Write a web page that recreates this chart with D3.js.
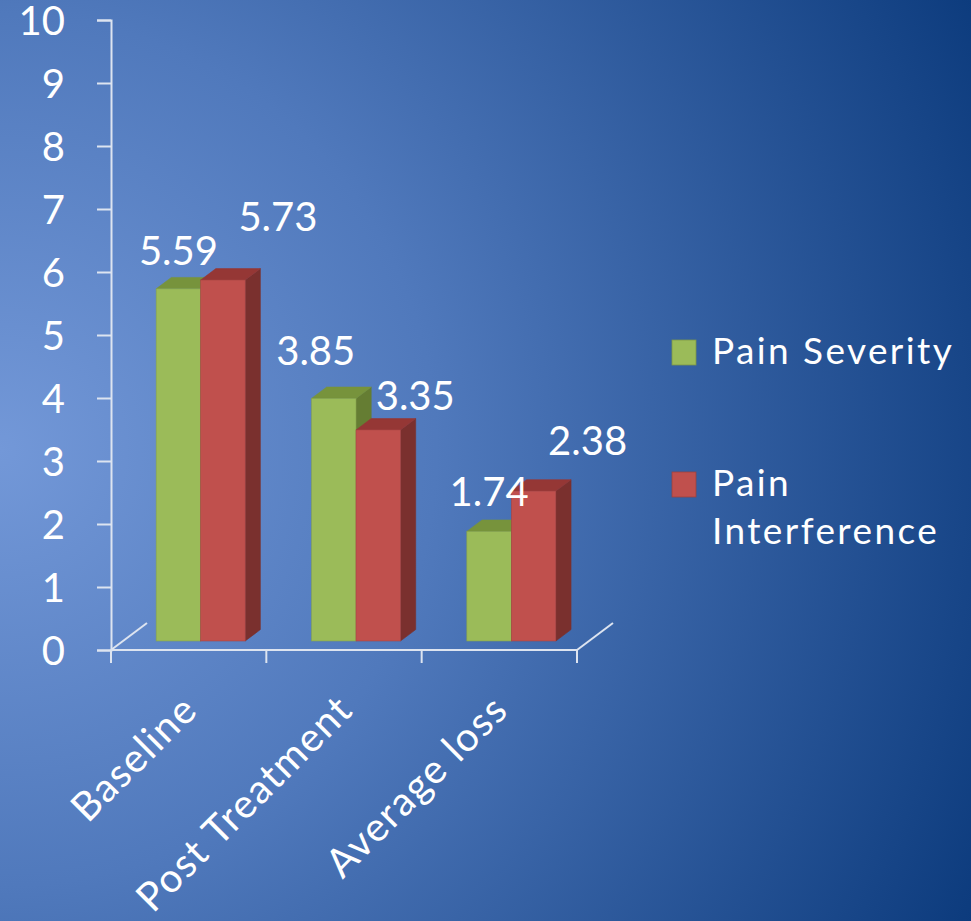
<!DOCTYPE html>
<html>
<head>
<meta charset="utf-8">
<script src="https://cdn.jsdelivr.net/npm/d3@7"></script>
<style>
  html, body { margin: 0; padding: 0; overflow: hidden; }
  svg { display: block; }
</style>
</head>
<body>
<div id="chart"></div>
<script>
var categories = ["Baseline", "Post Treatment", "Average loss"];
var seriesNames = ["Pain Severity", "Pain Interference"];
var severity = [5.59, 3.85, 1.74];
var interference = [5.73, 3.35, 2.38];
var yTicks = [0, 1, 2, 3, 4, 5, 6, 7, 8, 9, 10];

(function () {
  var width = 971, height = 921;
  var font = "Lato, 'Open Sans', sans-serif";

  var front = { green: "#9bbb59", red: "#c0504d" };
  var top3d = { green: "#77933c", red: "#953735" };
  var side3d = { green: "#657d33", red: "#7a302e" };
  var colors = ["green", "red"];

  // depth of the floor, bars sit between 30% and 68% of it
  var depthX = 40, depthY = -30;
  var barFront = 0.3, barBack = 0.68;

  // label nudges to follow the reference placement (dx, dy above top)
  var labelNudge = [[[0, 24], [55, 49]], [[-18, 33], [37, 20]], [[0, 25], [54, 36]]];

  var svg = d3.select("#chart").append("svg")
    .attr("width", width).attr("height", height);

  var defs = svg.append("defs");
  var grad = defs.append("radialGradient")
    .attr("id", "bg").attr("gradientUnits", "userSpaceOnUse")
    .attr("cx", 0).attr("cy", 450).attr("r", 1090)
    .attr("fx", 0).attr("fy", 450);
  grad.append("stop").attr("offset", "0%").attr("stop-color", "#7398d8");
  grad.append("stop").attr("offset", "40%").attr("stop-color", "#5079bc");
  grad.append("stop").attr("offset", "100%").attr("stop-color", "#0b3a7c");

  svg.append("rect").attr("width", width).attr("height", height).attr("fill", "url(#bg)");

  var y = d3.scaleLinear().domain([0, 10]).range([650, 20]);
  var x0 = d3.scaleBand().domain(categories).range([111, 577]);
  var x1 = d3.scaleBand().domain(seriesNames).range([0, x0.bandwidth()]).paddingOuter(0.745);

  var axisColor = "#dde4f0";

  // floor side lines
  var g = svg.append("g");
  [111, 577].forEach(function (xx) {
    g.append("line")
      .attr("x1", xx).attr("y1", y(0))
      .attr("x2", xx + depthX * 0.9).attr("y2", y(0) + depthY * 0.9)
      .attr("stroke", axisColor).attr("stroke-width", 2);
  });

  // y axis
  var yAxis = d3.axisLeft(y).tickValues(yTicks).tickSize(14).tickPadding(32);
  var ya = svg.append("g").attr("transform", "translate(111,0)").call(yAxis);
  ya.select(".domain").attr("stroke", axisColor).attr("stroke-width", 2);
  ya.selectAll(".tick line").attr("stroke", axisColor).attr("stroke-width", 2);
  ya.selectAll(".tick text")
    .attr("fill", "#ffffff").attr("font-family", font).attr("font-size", "40px")
    .attr("dy", "0.36em");

  // x axis
  var xa = svg.append("g").attr("transform", "translate(0," + y(0) + ")");
  xa.append("line").attr("x1", 111).attr("x2", 577).attr("y1", 0).attr("y2", 0)
    .attr("stroke", axisColor).attr("stroke-width", 2);
  var xTickPos = categories.map(function (c) { return x0(c); }).concat([x0.range()[1]]);
  xa.selectAll("line.tk").data(xTickPos).enter().append("line")
    .attr("class", "tk")
    .attr("x1", function (d) { return d; }).attr("x2", function (d) { return d; })
    .attr("y1", 0).attr("y2", 13)
    .attr("stroke", axisColor).attr("stroke-width", 2);

  svg.selectAll("text.cat").data(categories).enter().append("text")
    .attr("class", "cat")
    .attr("text-anchor", "end")
    .attr("fill", "#ffffff").attr("font-family", font).attr("font-size", "40px")
    .attr("letter-spacing", "1.5px")
    .attr("transform", function (c) {
      var cx = x0(c) + x0.bandwidth() / 2 + 11;
      return "translate(" + cx + ",712) rotate(-45)";
    })
    .text(function (c) { return c; });

  // bars
  var fx = depthX * barFront, fy = depthY * barFront;
  var bdx = depthX * (barBack - barFront), bdy = depthY * (barBack - barFront);
  var values = [severity, interference];
  var bars = [];
  categories.forEach(function (c, ci) {
    seriesNames.forEach(function (s, si) {
      bars.push({ c: c, ci: ci, s: s, si: si, v: values[si][ci] });
    });
  });

  var barG = svg.append("g");
  bars.forEach(function (b) {
    var xl = x0(b.c) + x1(b.s) + fx;
    var xr = xl + x1.bandwidth();
    var yb = y(0) + fy;
    var yt = y(b.v) + fy;
    var col = colors[b.si];
    var bg = barG.append("g");
    bg.append("path")
      .attr("d", "M" + xr + "," + yb + "L" + (xr + bdx) + "," + (yb + bdy) +
        "L" + (xr + bdx) + "," + (yt + bdy) + "L" + xr + "," + yt + "Z")
      .attr("fill", side3d[col]).attr("stroke", side3d[col]).attr("stroke-width", 0.6);
    bg.append("path")
      .attr("d", "M" + xl + "," + yt + "L" + (xl + bdx) + "," + (yt + bdy) +
        "L" + (xr + bdx) + "," + (yt + bdy) + "L" + xr + "," + yt + "Z")
      .attr("fill", top3d[col]).attr("stroke", top3d[col]).attr("stroke-width", 0.6);
    bg.append("rect")
      .attr("x", xl).attr("y", yt).attr("width", x1.bandwidth()).attr("height", yb - yt)
      .attr("fill", front[col]).attr("stroke", d3.color(front[col]).darker(0.4)).attr("stroke-width", 0.6);
  });

  // value labels
  svg.selectAll("text.val").data(bars).enter().append("text")
    .attr("class", "val")
    .attr("text-anchor", "middle")
    .attr("fill", "#ffffff").attr("font-family", font).attr("font-size", "40px")
    .attr("x", function (b) {
      return x0(b.c) + x1(b.s) + fx + x1.bandwidth() / 2 + labelNudge[b.ci][b.si][0];
    })
    .attr("y", function (b) { return y(b.v) + fy - labelNudge[b.ci][b.si][1]; })
    .text(function (b) { return b.v.toFixed(2); });

  // legend
  var leg = svg.append("g").attr("transform", "translate(672,340)");
  var legLines = [["Pain Severity"], ["Pain", "Interference"]];
  seriesNames.forEach(function (s, i) {
    var gi = leg.append("g").attr("transform", "translate(0," + (i * 132) + ")");
    gi.append("rect").attr("width", 24).attr("height", 25)
      .attr("fill", front[colors[i]]).attr("stroke", d3.color(front[colors[i]]).darker(0.6)).attr("stroke-width", 0.8);
    var t = gi.append("text").attr("fill", "#ffffff").attr("font-family", font)
      .attr("font-size", "37px").attr("letter-spacing", "2.4px");
    legLines[i].forEach(function (ln, li) {
      t.append("tspan").attr("x", 40).attr("y", 24 + li * 48).text(ln);
    });
  });
})();
</script>
</body>
</html>
